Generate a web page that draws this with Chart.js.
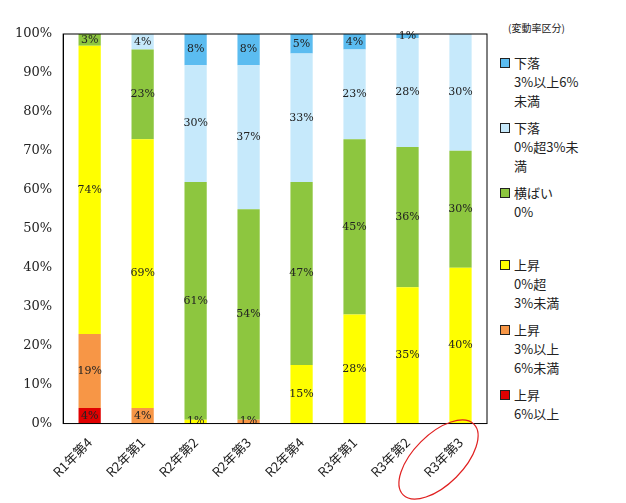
<!DOCTYPE html>
<html><head><meta charset="utf-8">
<script src="https://cdn.jsdelivr.net/npm/chart.js@4"></script>
<style>
body{margin:0;background:#fff;font-family:"Noto Sans CJK JP",sans-serif}
#wrap{position:relative;width:626px;height:503px}
#c{position:absolute;left:0;top:0}
#legend{position:absolute;left:500px;top:18px;font-size:13px;color:#222;line-height:19px}
#legend .t{font-size:10px;margin-left:8px;margin-bottom:16px}
#legend .it{display:flex;margin-bottom:6px}
#legend .sw{width:8px;height:8px;border:1px solid #222;margin:5px 4px 0 0;flex:none}
</style></head><body>
<div id="wrap"><canvas id="c" width="495" height="503"></canvas>
<div id="legend"><div class="t">(変動率区分)</div></div></div>
<script>
const categories = ["R1年第4","R2年第1","R2年第2","R2年第3","R2年第4","R3年第1","R3年第2","R3年第3"];
const seriesNames = ["上昇\n6%以上","上昇\n3%以上\n6%未満","上昇\n0%超\n3%未満","横ばい\n0%","下落\n0%超3%未\n満","下落\n3%以上6%\n未満"];
const colors = ["#e00000","#f79646","#ffff00","#8dc63f","#c6e9fb","#5bbcf0"];
const up6 =    [4, 0, 0, 0, 0, 0, 0, 0];
const up3 =    [19, 4, 0, 1, 0, 0, 0, 0];
const up0 =    [74, 69, 1, 0, 15, 28, 35, 40];
const flat =   [3, 23, 61, 54, 47, 45, 36, 30];
const down0 =  [0, 4, 30, 37, 33, 23, 28, 30];
const down3 =  [0, 0, 8, 8, 5, 4, 1, 0];
const seriesValues = [up6, up3, up0, flat, down0, down3];

const lg = document.getElementById("legend");
[5,4,3,2,1,0].forEach((i, k) => {
  const d = document.createElement("div");
  d.className = "it";
  d.style.marginBottom = (k === 2 ? 34 : 8) + "px";
  d.innerHTML = `<div class="sw" style="background:${colors[i]}"></div><div>${seriesNames[i].replace(/\n/g,"<br>")}</div>`;
  lg.appendChild(d);
});

const labelPlugin = {
  id: "vals",
  afterDatasetsDraw(chart) {
    const ctx = chart.ctx;
    ctx.save();
    ctx.font = "11px 'DejaVu Serif', serif";
    ctx.fillStyle = "#222";
    ctx.textAlign = "center";
    ctx.textBaseline = "middle";
    chart.data.datasets.forEach((ds, di) => {
      chart.getDatasetMeta(di).data.forEach((bar, j) => {
        const v = ds.data[j];
        if (!v) return;
        ctx.fillText(v + "%", bar.x, (bar.y + bar.base) / 2);
      });
    });
    const xs = chart.scales.x, ya = chart.scales.y;
    const a = chart.chartArea;
    ctx.strokeStyle = "#000"; ctx.lineWidth = 1;
    ctx.strokeRect(a.left, a.top, a.right - a.left, a.bottom - a.top);
    const x = xs.getPixelForValue(7) - 22, y = ya.bottom + 36;
    ctx.translate(x, y); ctx.rotate(-Math.PI / 4);
    ctx.beginPath(); ctx.ellipse(0, 0, 50, 25, 0, 0, Math.PI * 2);
    ctx.strokeStyle = "#e02020"; ctx.lineWidth = 1.2; ctx.stroke();
    ctx.restore();
  }
};

new Chart(document.getElementById("c"), {
  type: "bar",
  data: {
    labels: categories,
    datasets: seriesValues.map((d, i) => ({
      label: seriesNames[i], data: d, backgroundColor: colors[i],
      barPercentage: 0.42, categoryPercentage: 1
    }))
  },
  options: {
    responsive: false, animation: false,
    layout: { padding: { top: 34, right: 8, left: 12, bottom: 20 } },
    plugins: { legend: { display: false }, tooltip: { enabled: false } },
    scales: {
      x: { stacked: true, grid: { display: false },
        ticks: { maxRotation: 45, minRotation: 45, color: "#222", font: { size: 13, family: "'Noto Sans CJK JP'" } } },
      y: { stacked: true, min: 0, max: 100, grid: { display: false },
        border: { color: "#000" },
        ticks: { stepSize: 10, color: "#222", font: { size: 13, family: "'DejaVu Serif', serif" }, callback: v => v + "%" } }
    }
  },
  plugins: [labelPlugin]
});
</script></body></html>
